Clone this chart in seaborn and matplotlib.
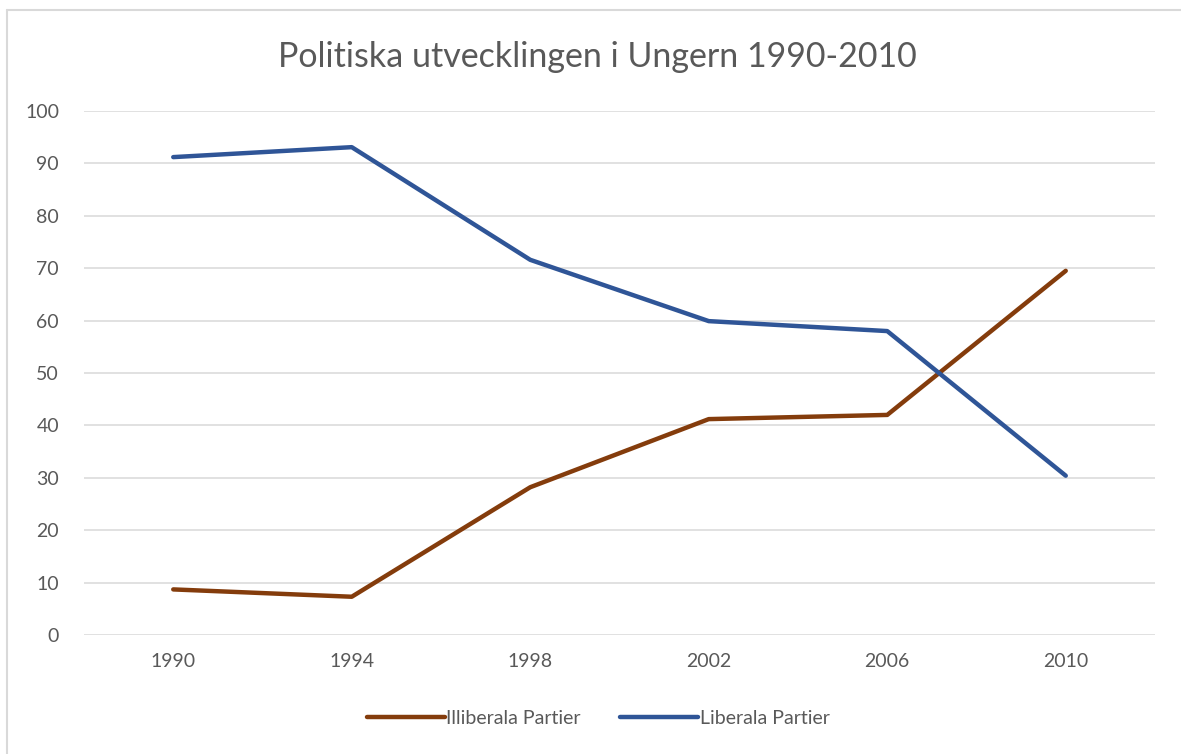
import numpy as np
import pandas as pd
import matplotlib.pyplot as plt
import matplotlib.lines as mlines
import seaborn as sns

years = ["1990", "1994", "1998", "2002", "2006", "2010"]
illiberala = [8.7, 7.3, 28.2, 41.2, 42.0, 69.5]
liberala = [91.2, 93.1, 71.6, 59.9, 58.0, 30.4]
series_names = ["Illiberala Partier", "Liberala Partier"]

df = pd.DataFrame({
    "year": years * 2,
    "value": illiberala + liberala,
    "serie": [series_names[0]] * len(years) + [series_names[1]] * len(years),
})

sns.set_theme(style="white")
plt.rcParams['font.family'] = ['Lato', 'DejaVu Sans']

fig = plt.figure(figsize=(11.81, 7.54), dpi=100)
ax = fig.add_axes([84 / 1181, 1 - 635 / 754, (1155 - 84) / 1181, (635 - 111) / 754])

sns.lineplot(data=df, x="year", y="value", hue="serie", ax=ax,
             palette={series_names[0]: "#843C0C", series_names[1]: "#2F5597"},
             linewidth=3.2, sort=False)
for ln in ax.lines:
    ln.set_solid_capstyle("round")

ax.set_xlim(-0.5, len(years) - 0.5)
ax.set_ylim(0, 100)
ax.set_yticks(np.arange(0, 101, 10))
ax.yaxis.grid(True, color="#D9D9D9", linewidth=1.1)
ax.set_axisbelow(True)
for s in ax.spines.values():
    s.set_visible(False)
ax.set_xlabel("")
ax.set_ylabel("")
ax.tick_params(axis="both", length=0, labelsize=14, colors="#595959")
ax.tick_params(axis="x", pad=13)
ax.tick_params(axis="y", pad=18)

fig.text(597 / 1181, 1 - 57 / 754, "Politiska utvecklingen i Ungern 1990-2010",
         ha="center", va="center", fontsize=24.5, color="#595959")

leg = ax.legend(loc="center", bbox_to_anchor=(0.48, -(718 - 635) / (635 - 111)),
                ncol=2, frameon=False, fontsize=14, handlelength=4.0,
                handletextpad=0.1, columnspacing=2.0)
for t in leg.get_texts():
    t.set_color("#595959")
for h in leg.get_lines():
    h.set_linewidth(3.2)
    h.set_solid_capstyle("round")

# chart frame (only top and left edges visible)
fig.add_artist(mlines.Line2D([7 / 1181, 1], [1 - 10 / 754, 1 - 10 / 754],
                             color="#D9D9D9", linewidth=1.5, transform=fig.transFigure))
fig.add_artist(mlines.Line2D([7 / 1181, 7 / 1181], [0, 1 - 10 / 754],
                             color="#D9D9D9", linewidth=1.5, transform=fig.transFigure))

fig.savefig("out.png", dpi=100, facecolor="white")
